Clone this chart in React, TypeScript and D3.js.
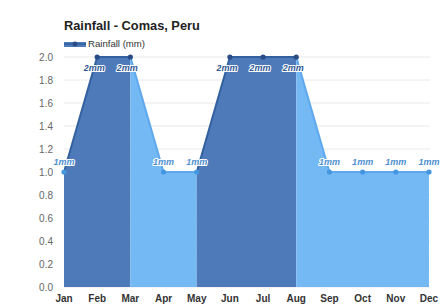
import * as d3 from "d3";
import React from "react";

// months and rainfall (mm)
const months = ["Jan", "Feb", "Mar", "Apr", "May", "Jun", "Jul", "Aug", "Sep", "Oct", "Nov", "Dec"];
const rainfall = [1, 2, 2, 1, 1, 2, 2, 2, 1, 1, 1, 1];
const yTicks = [0, 0.2, 0.4, 0.6, 0.8, 1.0, 1.2, 1.4, 1.6, 1.8, 2.0];
// colour zones by month index
const zoneStarts = [0, 2, 4, 7];
const zoneEnds = [2, 4, 7, 11];
const zoneDark = [true, false, true, false];

const DARK = { fill: "#4e7aba", line: "#33609f", dot: "#2a4c85", label: "#2f5896" };
const LIGHT = { fill: "#74b8f4", line: "#5ea8ee", dot: "#4596e0", label: "#4d8fcf" };

const App = () => {
  const width = 440;
  const height = 304;
  const margin = { top: 57, right: 10, bottom: 17, left: 64 };
  const x = d3.scaleLinear().domain([0, 11]).range([margin.left, 429]);
  const y = d3.scaleLinear().domain([0, 2]).range([height - margin.bottom, margin.top]);

  const area = d3
    .area<number>()
    .x((_, i) => x(i))
    .y0(y(0))
    .y1((d) => y(d));
  const line = d3
    .line<number>()
    .x((_, i) => x(i))
    .y((d) => y(d));

  const pts = rainfall.map((d, i) => ({ d, i }));
  // low points take the light colour, high points the dark one
  const colourFor = (d: number) => (d === 2 ? DARK : LIGHT);

  return (
    <svg
      width={width}
      height={height}
      style={{ position: "absolute", left: 0, top: 0, fontFamily: "Liberation Sans, Arial, sans-serif" }}
    >
      <rect width={width} height={height} fill="#fff" />
      {/* title */}
      <text x={64} y={30} fontSize={12.8} fontWeight="bold" fill="#222">
        Rainfall - Comas, Peru
      </text>
      {/* legend */}
      <rect x={64} y={42} width={22} height={5} fill={DARK.fill} />
      <line x1={64} x2={86} y1={44} y2={44} stroke={DARK.line} strokeWidth={1.5} />
      <circle cx={75} cy={44} r={2.5} fill={DARK.dot} />
      <text x={88} y={47} fontSize={9.6} fill="#333">
        Rainfall (mm)
      </text>

      {/* grid + y labels */}
      {yTicks.map((t) => (
        <g key={t}>
          <line x1={margin.left} x2={430} y1={y(t)} y2={y(t)} stroke="#e8e8e8" strokeWidth={1} />
          <text x={53} y={y(t) + 3.5} fontSize={10} fill="#666" textAnchor="end">
            {t.toFixed(1)}
          </text>
        </g>
      ))}

      <defs>
        {zoneStarts.map((s, k) => (
          <clipPath id={`zone${k}`} key={k}>
            <rect x={x(s)} y={0} width={x(zoneEnds[k]) - x(s) + (k === 3 ? 1 : 0)} height={height} />
          </clipPath>
        ))}
      </defs>

      {/* zoned area + line */}
      {zoneStarts.map((s, k) => {
        const c = zoneDark[k] ? DARK : LIGHT;
        return (
          <g key={k} clipPath={`url(#zone${k})`}>
            <path d={area(rainfall) ?? ""} fill={c.fill} />
            <path d={line(rainfall) ?? ""} fill="none" stroke={c.line} strokeWidth={2} />
          </g>
        );
      })}

      {/* points */}
      {pts.map(({ d, i }) => (
        <circle key={i} cx={x(i)} cy={y(d)} r={2.6} fill={colourFor(d).dot} />
      ))}

      {/* data labels */}
      {pts.map(({ d, i }) => {
        const top = d === 2;
        return (
          <text
            key={i}
            x={x(i) - (top ? 3 : 0)}
            y={top ? y(d) + 13.5 : y(d) - 7}
            fontSize={9}
            fontWeight="bold"
            fontStyle="italic"
            textAnchor="middle"
            fill={colourFor(d).label}
            stroke="#fff"
            strokeWidth={2}
            paintOrder="stroke"
            strokeLinejoin="round"
          >
            {d}mm
          </text>
        );
      })}

      {/* x labels */}
      {months.map((m, i) => (
        <text key={m} x={x(i)} y={302} fontSize={10} fontWeight="bold" fill="#333" textAnchor="middle">
          {m}
        </text>
      ))}
    </svg>
  );
};

export default App;
